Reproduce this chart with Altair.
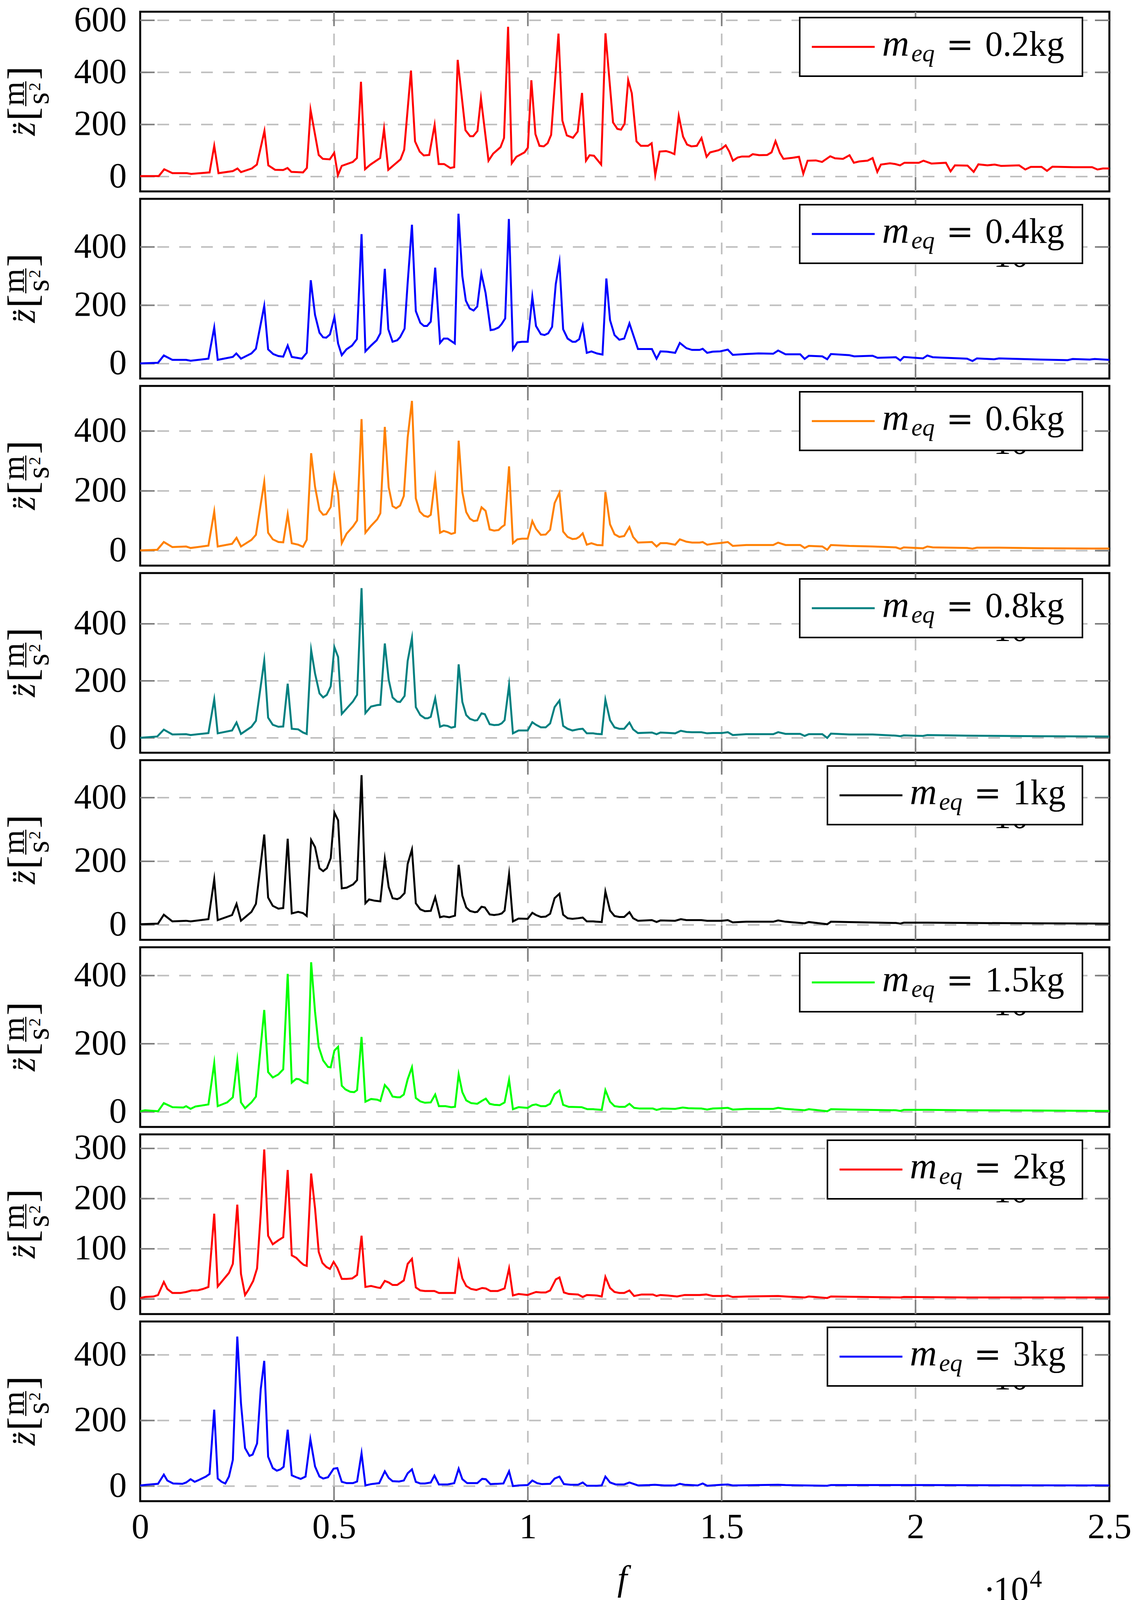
import altair as alt
import pandas as pd

FONT = "Liberation Serif"
W, H = 2482, 460
X_TICKS = [0, 5000, 10000, 15000, 20000, 25000]
X_GRID = [5000, 10000, 15000, 20000]

# (frequency, amplitude) points
pts_02 = [(0, 2), (480, 2), (620, 28), (830, 13), (1200, 13), (1315, 10), (1790, 16), (1910, 118), (2020, 13),
          (2390, 21), (2510, 31), (2600, 17), (2880, 31), (3010, 46), (3205, 175), (3305, 43), (3480, 26),
          (3690, 25), (3800, 33), (3900, 18), (4200, 16), (4300, 33), (4395, 256), (4605, 83), (4710, 68),
          (4890, 66), (5005, 91), (5100, 5), (5200, 41), (5485, 56), (5590, 71), (5695, 364), (5800, 28),
          (5940, 46), (6190, 71), (6290, 183), (6400, 26), (6715, 66), (6810, 103), (6985, 407), (7090, 135),
          (7210, 96), (7315, 81), (7455, 83), (7595, 198), (7700, 48), (7840, 48), (8000, 33), (8100, 36),
          (8190, 448), (8390, 178), (8510, 155), (8590, 155), (8700, 175), (8790, 300), (8985, 61), (9105, 88),
          (9295, 113), (9385, 148), (9490, 575), (9585, 51), (9705, 76), (9915, 93), (10000, 111), (10090, 370),
          (10195, 163), (10300, 118), (10410, 116), (10510, 128), (10600, 160), (10790, 549), (10890, 215),
          (11005, 158), (11163, 149), (11285, 173), (11397, 321), (11500, 61), (11593, 82), (11705, 80),
          (11891, 46), (12002, 550), (12197, 208), (12309, 183), (12402, 180), (12495, 203), (12588, 370),
          (12681, 320), (12802, 135), (12914, 118), (13100, 118), (13193, 128), (13286, 6), (13398, 96),
          (13565, 98), (13677, 93), (13780, 86), (13892, 233), (14004, 153), (14106, 123), (14218, 116),
          (14358, 118), (14479, 148), (14610, 76), (14703, 93), (14917, 101), (15010, 108), (15103, 120),
          (15196, 96), (15289, 61), (15410, 73), (15522, 77), (15708, 77), (15801, 86), (15969, 82), (16174, 83),
          (16286, 93), (16388, 136), (16500, 91), (16593, 68), (16826, 72), (16993, 76), (17105, 11), (17216, 61),
          (17431, 62), (17589, 56), (17800, 78), (17924, 70), (18129, 68), (18297, 82), (18409, 53), (18549, 58),
          (18763, 61), (18893, 71), (19014, 18), (19107, 46), (19340, 51), (19480, 48), (19600, 43), (19712, 53),
          (20085, 53), (20205, 61), (20410, 50), (20783, 53), (20904, 20), (21016, 43), (21342, 42), (21500, 18),
          (21621, 47), (21854, 43), (22040, 46), (22208, 41), (22673, 43), (22832, 27), (22972, 37), (23251, 37),
          (23391, 22), (23530, 38), (24089, 36), (24555, 36), (24694, 27), (24834, 31), (25000, 31)]

pts_04 = [(0, 1), (460, 3), (610, 28), (830, 13), (1185, 13), (1300, 10), (1760, 17), (1910, 124), (2000, 13),
          (2390, 23), (2480, 35), (2600, 17), (2870, 35), (2985, 51), (3200, 198), (3300, 49), (3430, 33),
          (3565, 26), (3690, 24), (3805, 62), (3910, 23), (4170, 17), (4295, 37), (4400, 286), (4510, 167),
          (4625, 106), (4720, 90), (4800, 89), (4895, 100), (5010, 159), (5105, 69), (5200, 29), (5320, 49),
          (5465, 62), (5590, 84), (5710, 444), (5810, 42), (5955, 62), (6100, 80), (6195, 104), (6310, 325),
          (6400, 118), (6510, 75), (6630, 80), (6705, 91), (6820, 120), (6900, 278), (7010, 476), (7110, 180),
          (7225, 140), (7320, 129), (7400, 129), (7495, 144), (7610, 329), (7735, 71), (7830, 86), (7930, 86),
          (8115, 69), (8210, 514), (8310, 300), (8400, 216), (8500, 189), (8600, 182), (8695, 196), (8800, 309),
          (8910, 242), (9040, 115), (9130, 117), (9245, 124), (9320, 135), (9415, 155), (9510, 496), (9615, 49),
          (9730, 73), (9850, 75), (9995, 75), (10115, 229), (10210, 129), (10335, 101), (10430, 98), (10525, 104),
          (10625, 126), (10720, 273), (10815, 347), (10910, 118), (11025, 86), (11150, 75), (11230, 75),
          (11325, 84), (11415, 129), (11520, 37), (11640, 42), (11780, 35), (11925, 31), (12025, 292),
          (12120, 149), (12235, 98), (12360, 82), (12485, 86), (12620, 138), (12715, 100), (12840, 50),
          (13200, 50), (13320, 17), (13420, 42), (13585, 41), (13800, 37), (13920, 71), (14090, 53), (14235, 47),
          (14430, 47), (14510, 51), (14625, 37), (14770, 41), (14960, 42), (15158, 48), (15285, 30), (15633, 33),
          (15950, 35), (16329, 34), (16456, 45), (16646, 32), (17026, 32), (17140, 16), (17247, 27), (17595, 25),
          (17722, 15), (17817, 33), (18292, 29), (18418, 25), (18893, 27), (19020, 20), (19494, 22), (19608, 11),
          (19697, 23), (20191, 18), (20305, 28), (20444, 22), (21330, 17), (21469, 9), (21583, 18), (22026, 15),
          (22153, 18), (23229, 14), (23925, 12), (24052, 16), (24495, 14), (24622, 16), (25000, 13)]

pts_06 = [(0, 1), (440, 3), (610, 29), (830, 12), (1185, 14), (1300, 9), (1760, 17), (1910, 131), (2000, 14),
          (2370, 23), (2485, 43), (2600, 14), (2870, 36), (2985, 53), (3200, 230), (3300, 60), (3420, 38),
          (3565, 29), (3690, 28), (3805, 122), (3910, 25), (4075, 20), (4200, 13), (4295, 36), (4410, 326),
          (4510, 214), (4625, 135), (4720, 120), (4800, 122), (4915, 146), (5010, 251), (5105, 192), (5200, 25),
          (5325, 57), (5490, 81), (5595, 101), (5710, 440), (5810, 60), (5955, 83), (6115, 105), (6195, 125),
          (6310, 414), (6410, 212), (6510, 149), (6600, 142), (6705, 151), (6800, 183), (6900, 379), (7010, 501),
          (7110, 175), (7210, 131), (7320, 117), (7420, 113), (7495, 120), (7610, 241), (7735, 60), (7830, 66),
          (7930, 62), (8025, 56), (8120, 60), (8215, 368), (8310, 196), (8410, 129), (8505, 107), (8600, 99),
          (8695, 101), (8805, 145), (8910, 133), (9015, 71), (9130, 67), (9245, 69), (9325, 79), (9400, 86),
          (9515, 282), (9615, 25), (9730, 38), (9850, 40), (9995, 40), (10115, 99), (10210, 73), (10335, 53),
          (10460, 54), (10575, 70), (10690, 159), (10815, 194), (10910, 64), (11025, 46), (11150, 39),
          (11245, 40), (11325, 46), (11415, 58), (11520, 20), (11640, 25), (11780, 19), (11925, 18), (12000, 196),
          (12120, 88), (12235, 55), (12360, 46), (12485, 49), (12620, 79), (12715, 46), (12840, 27), (13200, 29),
          (13320, 14), (13420, 25), (13585, 25), (13800, 20), (13920, 38), (14090, 30), (14235, 27), (14430, 27),
          (14510, 29), (14625, 20), (14770, 23), (15000, 26), (15158, 29), (15285, 16), (15633, 19), (16329, 19),
          (16456, 27), (16646, 19), (17026, 19), (17140, 9), (17247, 16), (17595, 14), (17722, 3), (17817, 19),
          (18292, 16), (18893, 14), (19494, 11), (19608, 6), (19697, 11), (20191, 8), (20305, 14), (20444, 11),
          (21330, 9), (21469, 7), (21583, 10), (22153, 10), (23229, 8), (25000, 7)]

pts_08 = [(0, 0.5), (440, 5), (610, 29), (830, 12), (1185, 13), (1300, 10), (1760, 17), (1910, 135), (2000, 16),
          (2370, 26), (2485, 54), (2600, 14), (2870, 39), (2985, 60), (3200, 271), (3300, 71), (3420, 46),
          (3565, 39), (3690, 40), (3805, 190), (3910, 32), (4075, 30), (4200, 19), (4295, 14), (4410, 308),
          (4510, 226), (4625, 156), (4720, 142), (4815, 151), (4915, 181), (5010, 318), (5105, 284), (5200, 84),
          (5325, 103), (5490, 128), (5595, 151), (5710, 525), (5810, 87), (5955, 110), (6115, 115), (6195, 116),
          (6310, 331), (6410, 204), (6510, 142), (6630, 127), (6705, 126), (6820, 147), (6900, 270), (7010, 350),
          (7110, 108), (7225, 80), (7345, 69), (7420, 69), (7495, 74), (7610, 139), (7735, 39), (7830, 44),
          (7930, 42), (8025, 36), (8120, 39), (8215, 258), (8310, 126), (8410, 80), (8505, 67), (8630, 61),
          (8695, 62), (8805, 86), (8890, 83), (9015, 48), (9130, 45), (9245, 46), (9325, 51), (9400, 62),
          (9515, 185), (9615, 16), (9760, 26), (9995, 26), (10115, 55), (10210, 46), (10335, 37), (10460, 37),
          (10575, 51), (10690, 108), (10815, 131), (10910, 42), (11025, 32), (11150, 26), (11325, 31), (11415, 32),
          (11520, 16), (11685, 16), (11780, 14), (11905, 13), (12000, 134), (12120, 62), (12235, 37), (12360, 32),
          (12485, 32), (12620, 54), (12715, 30), (12840, 17), (13200, 19), (13320, 13), (13420, 19), (13660, 17),
          (13800, 16), (13945, 25), (14090, 21), (14235, 20), (14475, 20), (14625, 16), (14770, 17), (15000, 17),
          (15158, 20), (15285, 10), (15633, 13), (16329, 13), (16456, 20), (16646, 14), (17026, 14), (17140, 7),
          (17247, 13), (17595, 13), (17722, 0), (17817, 15), (18292, 12), (18893, 12), (19494, 8), (19608, 6),
          (19697, 9), (20191, 7), (20305, 10), (21330, 8), (23229, 6), (25000, 5)]

pts_1 = [(0, 2), (460, 4), (610, 32), (830, 11), (1185, 13), (1300, 11), (1760, 18), (1910, 143), (2000, 15),
         (2370, 31), (2485, 66), (2600, 13), (2870, 41), (2985, 66), (3200, 284), (3300, 86), (3420, 60),
         (3565, 51), (3690, 53), (3805, 271), (3910, 36), (4075, 41), (4200, 37), (4295, 28), (4410, 267),
         (4510, 245), (4625, 178), (4720, 169), (4815, 178), (4915, 210), (5010, 353), (5105, 329), (5200, 115),
         (5325, 117), (5490, 127), (5595, 141), (5710, 471), (5810, 68), (5905, 80), (6050, 76), (6195, 74),
         (6310, 207), (6410, 119), (6510, 84), (6630, 81), (6705, 85), (6820, 100), (6900, 192), (7010, 237),
         (7110, 68), (7225, 49), (7345, 43), (7495, 44), (7610, 87), (7735, 24), (7830, 27), (7975, 24),
         (8120, 29), (8215, 189), (8310, 92), (8410, 55), (8505, 44), (8630, 40), (8695, 41), (8805, 57),
         (8890, 55), (9015, 33), (9130, 31), (9245, 33), (9325, 36), (9400, 45), (9515, 159), (9615, 11),
         (9760, 20), (9995, 19), (10115, 38), (10210, 31), (10335, 25), (10460, 26), (10575, 35), (10690, 84),
         (10815, 98), (10910, 32), (11025, 21), (11150, 19), (11300, 21), (11415, 23), (11520, 11), (11685, 11),
         (11780, 10), (11905, 9), (12000, 105), (12120, 45), (12235, 28), (12360, 25), (12485, 25), (12620, 40),
         (12715, 21), (12840, 13), (13200, 15), (13320, 9), (13420, 14), (13800, 13), (13945, 18), (14090, 15),
         (14235, 15), (14475, 15), (14625, 13), (15000, 13), (15158, 15), (15285, 8), (15633, 10), (16329, 10),
         (16456, 14), (16646, 10), (17140, 5), (17247, 9), (17722, 2), (17817, 10), (18292, 9), (19494, 6),
         (19608, 4), (19697, 7), (20305, 7), (21330, 6), (23229, 5), (25000, 4)]

pts_15 = [(0, 2), (125, 5), (460, 2), (610, 26), (830, 14), (1115, 13), (1185, 17), (1300, 9), (1425, 16),
          (1760, 22), (1910, 143), (2000, 17), (2245, 28), (2390, 43), (2505, 151), (2600, 28), (2705, 11),
          (2870, 28), (2985, 45), (3200, 299), (3300, 117), (3420, 101), (3565, 110), (3690, 125), (3805, 405),
          (3910, 86), (4025, 97), (4100, 96), (4220, 87), (4315, 84), (4410, 439), (4510, 294), (4605, 191),
          (4720, 151), (4845, 132), (4915, 131), (5010, 180), (5105, 191), (5200, 77), (5295, 66), (5420, 59),
          (5520, 58), (5595, 64), (5710, 220), (5810, 30), (5955, 38), (6115, 36), (6195, 32), (6310, 79),
          (6410, 66), (6510, 45), (6630, 43), (6705, 43), (6800, 51), (6900, 96), (7010, 131), (7110, 41),
          (7225, 31), (7345, 27), (7495, 28), (7610, 51), (7705, 17), (7875, 17), (8025, 14), (8120, 15),
          (8215, 110), (8310, 58), (8410, 34), (8535, 26), (8695, 24), (8820, 33), (8915, 39), (9015, 24),
          (9130, 21), (9275, 20), (9400, 28), (9515, 94), (9615, 8), (9760, 14), (9995, 12), (10115, 20),
          (10210, 22), (10335, 17), (10460, 17), (10575, 24), (10690, 52), (10815, 63), (10910, 21), (11055, 15),
          (11390, 14), (11535, 8), (11685, 8), (11905, 6), (12000, 64), (12120, 30), (12235, 17), (12360, 15),
          (12505, 15), (12620, 24), (12740, 12), (12885, 10), (13225, 10), (13320, 6), (13465, 10), (13800, 9),
          (13995, 13), (14140, 11), (14475, 10), (14625, 7), (14770, 10), (15000, 11), (15158, 12), (15285, 7),
          (15633, 9), (16329, 9), (16456, 12), (16646, 9), (17140, 5), (17247, 8), (17722, 2), (17817, 8),
          (18292, 7), (19494, 5), (19608, 3), (19697, 6), (20305, 6), (21330, 5), (23229, 4), (25000, 3)]

pts_2 = [(0, 2), (125, 4), (345, 5), (460, 8), (610, 34), (700, 20), (830, 12), (1040, 12), (1185, 14),
         (1330, 17), (1475, 17), (1620, 20), (1760, 24), (1910, 170), (2000, 25), (2150, 39), (2290, 52),
         (2390, 70), (2505, 188), (2600, 50), (2705, 8), (2790, 18), (2915, 36), (3015, 61), (3110, 171),
         (3200, 298), (3300, 126), (3420, 109), (3565, 117), (3690, 123), (3805, 257), (3910, 87), (4025, 82),
         (4140, 73), (4220, 68), (4295, 66), (4410, 250), (4510, 181), (4605, 94), (4700, 72), (4800, 64),
         (4895, 60), (4990, 74), (5085, 62), (5200, 40), (5325, 40), (5470, 41), (5595, 48), (5710, 126),
         (5810, 24), (5955, 26), (6115, 23), (6195, 22), (6310, 36), (6410, 33), (6510, 28), (6630, 28),
         (6705, 32), (6800, 37), (6900, 70), (7010, 80), (7110, 23), (7225, 17), (7345, 16), (7590, 16),
         (7705, 12), (7930, 12), (8120, 12), (8215, 74), (8310, 41), (8410, 26), (8535, 20), (8670, 18),
         (8820, 22), (8915, 21), (9035, 16), (9225, 16), (9400, 21), (9515, 61), (9615, 7), (9760, 10),
         (9995, 8), (10210, 14), (10335, 13), (10460, 13), (10575, 17), (10720, 39), (10815, 43), (10930, 13),
         (11055, 10), (11295, 9), (11415, 4), (11520, 8), (11780, 7), (11905, 5), (12000, 44), (12120, 22),
         (12235, 14), (12360, 12), (12485, 12), (12620, 17), (12740, 6), (12935, 9), (13225, 9), (13320, 6),
         (13420, 8), (13610, 7), (13850, 5), (14045, 8), (14430, 8), (14600, 9), (14770, 6), (15000, 6),
         (15158, 7), (15285, 4), (15633, 5), (16456, 6), (16646, 5), (17140, 3), (17247, 5), (17722, 2),
         (17817, 5), (19608, 3), (19697, 4), (21330, 3), (25000, 3)]

pts_3 = [(0, 2), (170, 4), (460, 7), (610, 35), (700, 17), (850, 8), (1090, 7), (1185, 11), (1300, 21),
         (1405, 13), (1540, 20), (1695, 29), (1790, 37), (1910, 233), (2000, 23), (2100, 13), (2195, 8),
         (2290, 29), (2390, 80), (2505, 456), (2600, 252), (2705, 116), (2820, 92), (2900, 96), (3015, 130),
         (3110, 296), (3200, 382), (3300, 90), (3420, 55), (3525, 47), (3620, 51), (3700, 59), (3805, 172),
         (3910, 33), (4025, 27), (4140, 22), (4265, 29), (4390, 143), (4510, 60), (4625, 29), (4720, 23),
         (4845, 27), (4990, 53), (5085, 55), (5200, 13), (5325, 9), (5490, 9), (5595, 14), (5710, 100),
         (5810, 2), (5955, 6), (6165, 9), (6310, 45), (6410, 25), (6510, 15), (6675, 14), (6800, 17), (6900, 39),
         (7010, 51), (7110, 13), (7225, 8), (7345, 8), (7495, 11), (7590, 32), (7705, 5), (7930, 5), (8100, 9),
         (8215, 53), (8310, 21), (8435, 9), (8695, 9), (8820, 22), (8915, 21), (9035, 6), (9370, 8), (9515, 45),
         (9615, 0), (9760, 2), (9995, 3), (10115, 17), (10240, 9), (10365, 6), (10575, 7), (10690, 23),
         (10815, 29), (10930, 6), (11105, 4), (11295, 4), (11415, 11), (11520, 1), (11780, 1), (11905, 2),
         (12000, 29), (12120, 11), (12265, 5), (12485, 5), (12620, 11), (12840, 2), (13130, 3), (13275, 4),
         (13515, 2), (13800, 2), (13920, 7), (14045, 4), (14380, 2), (14510, 8), (14625, 1), (15000, 4),
         (15158, 5), (15285, 2), (16456, 4), (16646, 3), (17722, 1), (17817, 3), (20305, 3), (25000, 2)]

masses = ["0.2kg", "0.4kg", "0.6kg", "0.8kg", "1kg", "1.5kg", "2kg", "3kg"]
colors = ["#ff0000", "#0000ff", "#ff8000", "#008080", "#000000", "#00ff00", "#ff0000", "#0000ff"]
series = [pts_02, pts_04, pts_06, pts_08, pts_1, pts_15, pts_2, pts_3]
y_domains = [[-57, 633], [-51, 565], [-50, 551], [-52, 578], [-47, 518], [-44, 483], [-30, 328], [-46, 502]]
y_ticks = [[0, 200, 400, 600], [0, 200, 400], [0, 200, 400], [0, 200, 400],
           [0, 200, 400], [0, 200, 400], [0, 100, 200, 300], [0, 200, 400]]

ONE = pd.DataFrame({"k": [0]})
GRID = dict(color="#bfbfbf", strokeWidth=4, strokeDash=[30, 26])
TICK = dict(color="#7f7f7f", strokeWidth=4)


def txt(text, x, y, size=90, style="normal", angle=0, font=FONT):
    kw = dict(text=text, font=font, fontSize=size, fontStyle=style, color="black",
              align="left", baseline="alphabetic")
    if angle:
        kw["align"] = "center"
        kw["angle"] = angle
    return alt.Chart(ONE).mark_text(**kw).encode(x=alt.value(x), y=alt.value(y))


def panel(i, bottom):
    df = pd.DataFrame(series[i], columns=["f", "z"])
    if bottom:
        xaxis = alt.Axis(values=X_TICKS, labelExpr="'' + (datum.value / 10000)", grid=False, ticks=False,
                         domain=False, labelFlush=False, labelPadding=23, title=None)
    else:
        xaxis = None
    xenc = alt.X("f:Q", scale=alt.Scale(domain=[0, 25000], nice=False, zero=False), axis=xaxis)
    yenc = alt.Y("z:Q", scale=alt.Scale(domain=y_domains[i], nice=False, zero=False),
                 axis=alt.Axis(values=y_ticks[i], grid=False, ticks=False, domain=False,
                               labelPadding=35, title=None))

    xg = pd.DataFrame({"f": X_GRID})
    yg = pd.DataFrame({"z": y_ticks[i]})
    layers = [
        alt.Chart(xg).mark_rule(**GRID).encode(x=xenc),
        alt.Chart(yg).mark_rule(**GRID).encode(y=yenc),
        alt.Chart(yg).mark_rule(**TICK).encode(x=alt.value(0), x2=alt.value(37), y=yenc),
        alt.Chart(yg).mark_rule(**TICK).encode(x=alt.value(W - 37), x2=alt.value(W), y=yenc),
        alt.Chart(xg).mark_rule(**TICK).encode(x=xenc, y=alt.value(H - 37), y2=alt.value(H)),
        alt.Chart(xg).mark_rule(**TICK).encode(x=xenc, y=alt.value(0), y2=alt.value(37)),
        alt.Chart(df).mark_line(color=colors[i], strokeWidth=5, strokeMiterLimit=10).encode(x=xenc, y=yenc),
    ]

    # legend box
    s = 0 if "." in masses[i] else 71
    layers += [
        alt.Chart(ONE).mark_rect(fill="white", stroke="black", strokeWidth=4).encode(
            x=alt.value(1689 + s), x2=alt.value(2413), y=alt.value(15), y2=alt.value(165)),
        alt.Chart(ONE).mark_rule(color=colors[i], strokeWidth=5).encode(
            x=alt.value(1720 + s), x2=alt.value(1881 + s), y=alt.value(90)),
        txt("m", 1900 + s, 113, size=96, style="italic"),
        txt("eq", 1975 + s, 127, size=63, style="italic"),
        txt("=", 2064 + s, 113, size=84, font="DejaVu Serif"),
        txt(masses[i], 2164 + s, 113),
    ]

    # y label: z-double-dot [m / s^2]
    layers += [
        txt("z\u0308", -270, 300, style="italic", angle=270),
        txt("[", -266, 262, size=105, angle=270),
        txt("m", -298, 210, size=80, angle=270),
        alt.Chart(ONE).mark_rule(color="black", strokeWidth=3).encode(
            x=alt.value(-293), y=alt.value(178), y2=alt.value(242)),
        txt("s", -235, 222, size=80, angle=270),
        txt("2", -256, 192, size=42, angle=270),
        txt("]", -266, 157, size=105, angle=270),
    ]

    # x scale factor label; in the upper panels it sits under the next panel's legend box
    base = 716 if bottom else 653
    layers += [
        txt("\u00b7", 2160, base),
        txt("10", 2185, base),
        txt("4", 2278, base - 36, size=63),
    ]
    if bottom:
        layers.append(txt("f", 1222, 688, style="italic"))

    return alt.layer(*layers).properties(width=W, height=H)


charts = [panel(i, i == len(series) - 1) for i in range(len(series))]

chart = alt.vconcat(*charts, spacing=19, bounds="flush").resolve_scale(
    x="independent", y="independent"
).properties(
    padding={"left": -14, "top": -4, "right": 10, "bottom": 0}
).configure_view(
    stroke="black", strokeWidth=5
).configure_axis(
    labelFont=FONT, labelFontSize=90, labelColor="black"
)

chart.save("out.html", embed_options={"renderer": "svg", "actions": False})
